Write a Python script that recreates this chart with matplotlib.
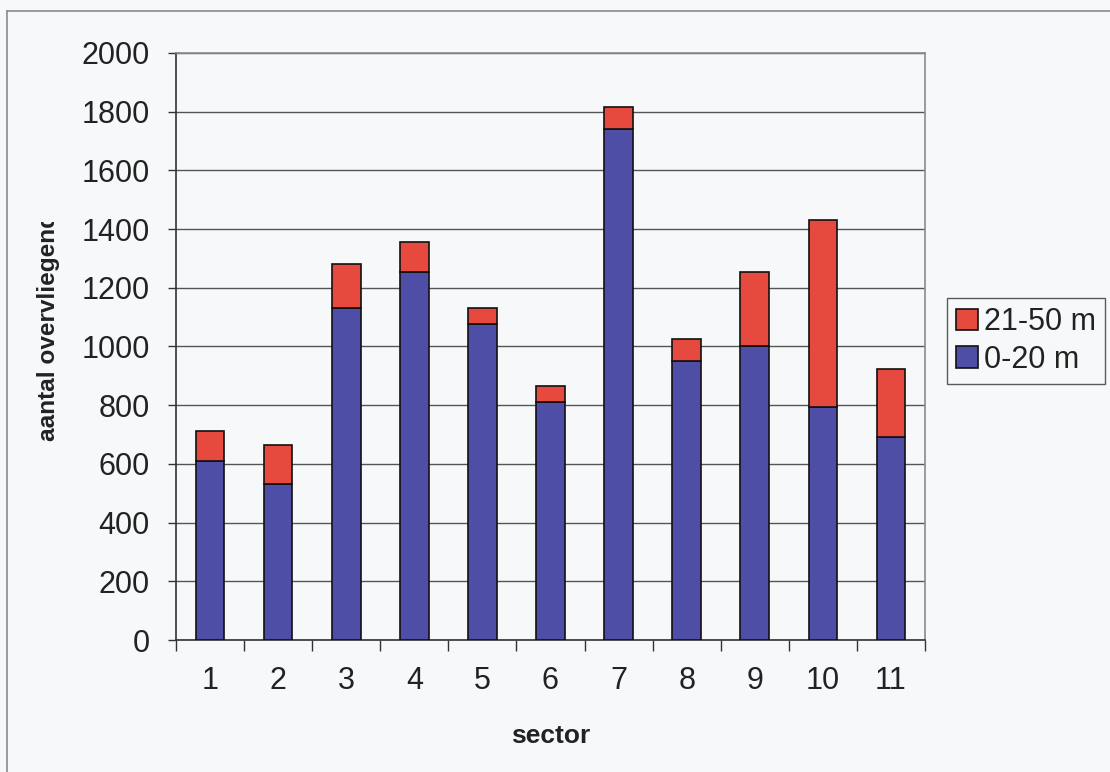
import numpy as np
import matplotlib.pyplot as plt
from matplotlib.lines import Line2D
from matplotlib.transforms import Bbox, TransformedBbox

# sectors and number of flyovers per height class
sectors = ['1', '2', '3', '4', '5', '6', '7', '8', '9', '10', '11']
low_0_20 = [610, 532, 1130, 1255, 1075, 810, 1740, 950, 1000, 795, 690]
high_21_50 = [102, 132, 150, 102, 55, 55, 75, 75, 255, 635, 235]

blue = '#4e4ea6'
red = '#e64a3f'
bg = '#f7f8fa'

plt.rcParams['font.family'] = ['Liberation Sans', 'DejaVu Sans']

fig = plt.figure(figsize=(11.10, 7.72), dpi=100, facecolor=bg)
W, H = 1110, 772
ax = fig.add_axes([176 / W, 1 - 640 / H, (925 - 176) / W, (640 - 53) / H])
ax.set_facecolor(bg)

x = np.arange(len(sectors))
ax.bar(x, low_0_20, width=0.42, color=blue, edgecolor='#111111', linewidth=1.2,
       label='0-20 m', zorder=3)
ax.bar(x, high_21_50, width=0.42, bottom=low_0_20, color=red, edgecolor='#111111',
       linewidth=1.2, label='21-50 m', zorder=3)

ax.set_xlim(-0.5, len(sectors) - 0.5)
ax.set_ylim(0, 2000)
ax.set_yticks(np.arange(0, 2001, 200))
ax.yaxis.grid(True, color='#555555', linewidth=1.0, zorder=0)
ax.tick_params(axis='y', labelsize=22, length=6, width=1, color='#333333',
               pad=13, labelcolor='#222222')

# tick marks sit between the categories, labels under the bars
ax.set_xticks(np.arange(-0.5, len(sectors), 1.0))
ax.set_xticklabels([])
ax.tick_params(axis='x', which='major', length=8, width=1, color='#333333')
ax.set_xticks(x, minor=True)
ax.set_xticklabels(sectors, minor=True)
ax.tick_params(axis='x', which='minor', length=0, labelsize=22, pad=19,
               labelcolor='#222222')

for side in ['left', 'bottom']:
    ax.spines[side].set_color('#333333')
    ax.spines[side].set_linewidth(1.2)
for side in ['top', 'right']:
    ax.spines[side].set_color('#8a8a8a')
    ax.spines[side].set_linewidth(1.2)

ax.set_xlabel('sector', fontsize=19, fontweight='bold', color='#222222')
ax.xaxis.set_label_coords(0.5, -0.143)

# y label runs off the top of the chart area
ylab = fig.text(48 / W, 1 - 441 / H, 'aantal overvliegende', rotation=90,
                rotation_mode='anchor', ha='left', va='center', fontsize=17.6,
                fontweight='bold', color='#222222')
ylab.set_clip_box(TransformedBbox(Bbox([[0, 0], [1, 1 - 222 / H]]), fig.transFigure))
ylab.set_clip_on(True)

handles, labels = ax.get_legend_handles_labels()
leg = ax.legend(handles[::-1], labels[::-1], loc='upper left',
                bbox_to_anchor=(947 / W, 1 - 298 / H), bbox_transform=fig.transFigure,
                fontsize=22, handlelength=0.7, handleheight=0.7, handletextpad=0.2,
                borderpad=0.3, labelspacing=0.25, borderaxespad=0, fancybox=False,
                frameon=True)
leg.get_frame().set_edgecolor('#333333')
leg.get_frame().set_linewidth(1.0)
leg.get_frame().set_facecolor(bg)
for t in leg.get_texts():
    t.set_color('#222222')

# outer chart border
fig.add_artist(Line2D([7 / W, 7 / W], [0, 1 - 11 / H], transform=fig.transFigure,
                      color='#8a8a8a', linewidth=1.2))
fig.add_artist(Line2D([7 / W, 1], [1 - 11 / H, 1 - 11 / H], transform=fig.transFigure,
                      color='#8a8a8a', linewidth=1.2))

fig.savefig('out.png', dpi=100, facecolor=bg)
